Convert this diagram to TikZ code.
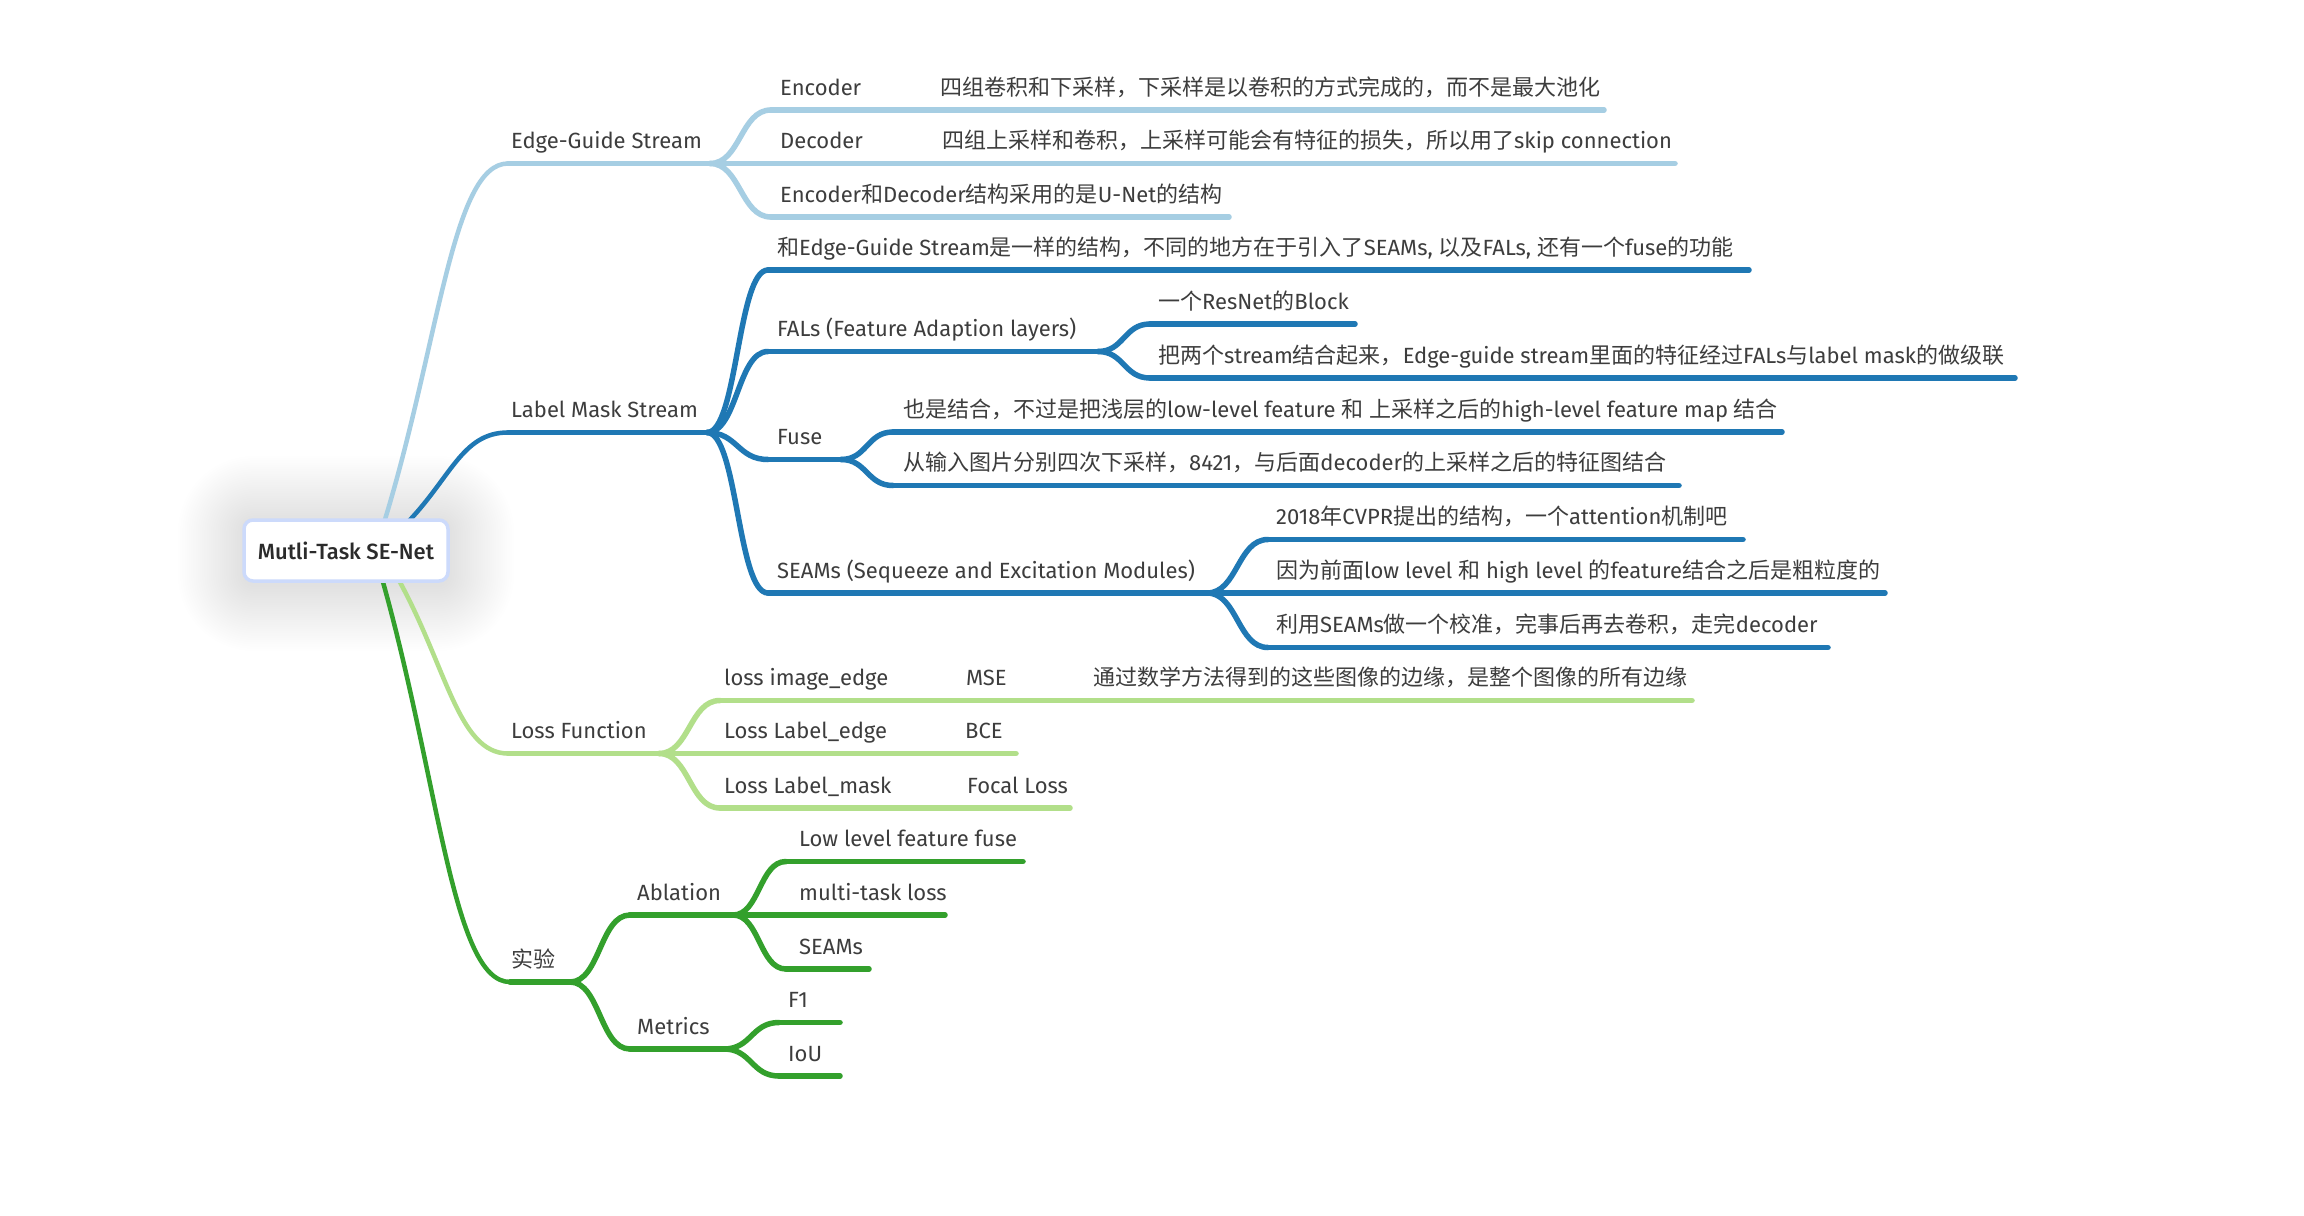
\documentclass[tikz,border=0pt]{standalone}
\usepackage{fontspec}
\setmainfont{Fira Sans}
\newfontfamily\cjk{Noto Sans CJK SC}
\IfFontExistsTF{Fira Sans Medium}{\newfontfamily\rootfont{Fira Sans Medium}}{\newfontfamily\rootfont{Fira Sans}[FakeBold=1]}
\usetikzlibrary{calc}
\definecolor{lb}{HTML}{A6CEE3}
\definecolor{db}{HTML}{1F78B4}
\definecolor{lg}{HTML}{B2DF8A}
\definecolor{dg}{HTML}{33A02C}
\definecolor{txt}{HTML}{3D3D3D}
\definecolor{roottxt}{HTML}{2B2B2B}
\definecolor{rootborder}{HTML}{CCDAFB}
\newcommand\cj[1]{{\cjk #1}}
\newcommand\sconn[3]{\draw[uline,#3] let \p1=(#1),\p2=(#2) in (\p1) .. controls ({0.5*\x1+0.5*\x2},\y1) and ({0.5*\x1+0.5*\x2},\y2) .. (\p2);}
\newcommand\rconn[3]{\draw[rootcurve,#3] let \p1=(#1),\p2=(#2) in (\p1) .. controls ({\x1+0.45*(\x2-\x1)},{\y1+0.5*(\y2-\y1)}) and ({\x1+0.55*(\x2-\x1)},\y2) .. (\p2);}
\begin{document}
\begin{tikzpicture}[x=1pt,y=-1pt,
  lbl/.style={anchor=base west, inner sep=0pt, text=txt, font=\fontsize{22}{26}\selectfont},
  uline/.style={line width=5.5pt, line cap=round},
  rootcurve/.style={line width=4.5pt, line cap=round},
  glow/.style={fill=black, opacity=0.002},
  rootbox/.style={draw=rootborder, line width=3.5pt, fill=white, rounded corners=9pt,
    minimum width=204pt, minimum height=61pt, inner sep=0pt, text=roottxt,
    font=\rootfont\fontsize{22}{26}\selectfont}]
\fill[white] (0,0) rectangle (2304,1215);
\useasboundingbox (0,0) rectangle (2304,1215);

% soft glow behind the central topic
\foreach \i in {1,...,30}{
  \fill[glow, rounded corners={(10+2.2*\i)*1pt}] ({244-2.2*\i},{522-2.2*\i}) rectangle ({448+2.2*\i},{585+2.2*\i});
}

% ---------- coordinates ----------
\coordinate (rA) at (383,526);
\coordinate (rB) at (404,526);
\coordinate (rC) at (396,575);
\coordinate (rD) at (381,575);
% Edge-Guide Stream
\coordinate (egS) at (508,163.5); \coordinate (egB) at (710,163.5);
\coordinate (encS) at (771,110);  \coordinate (encE) at (1604,110);
\coordinate (decE) at (1675,163.5);
\coordinate (udS) at (771,217);   \coordinate (udE) at (1229,217);
% Label Mask Stream
\coordinate (lmS) at (508,432.5); \coordinate (lmB) at (707,432.5);
\coordinate (s1S) at (768,270);   \coordinate (s1E) at (1749,270);
\coordinate (falS) at (768,351.5); \coordinate (falB) at (1098,351.5);
\coordinate (resS) at (1150,324); \coordinate (resE) at (1355,324);
\coordinate (twoS) at (1150,378); \coordinate (twoE) at (2015,378);
\coordinate (fuS) at (768,459.5); \coordinate (fuB) at (841,459.5);
\coordinate (f1S) at (893,432);   \coordinate (f1E) at (1782,432);
\coordinate (f2S) at (893,485.5); \coordinate (f2E) at (1679,485.5);
\coordinate (seS) at (768,593);   \coordinate (seB) at (1207,593);
\coordinate (saS) at (1268,539.5); \coordinate (saE) at (1743,539.5);
\coordinate (sbE) at (1885,593);
\coordinate (scS) at (1268,647.5); \coordinate (scE) at (1828,647.5);
% Loss Function
\coordinate (lfS) at (508,753.5); \coordinate (lfB) at (659,753.5);
\coordinate (l1S) at (720,700.5); \coordinate (l1E) at (1692,700.5);
\coordinate (l2E) at (1016,753.5);
\coordinate (l3S) at (720,808);   \coordinate (l3E) at (1070,808);
% experiment
\coordinate (exS) at (510,982);   \coordinate (exB) at (570,982);
\coordinate (abS) at (630,915);   \coordinate (abB) at (733,915);
\coordinate (a1S) at (786,861.5); \coordinate (a1E) at (1023,861.5);
\coordinate (a2E) at (945,915);
\coordinate (a3S) at (786,969);   \coordinate (a3E) at (869,969);
\coordinate (meS) at (630,1049);  \coordinate (meB) at (724,1049);
\coordinate (m1S) at (779,1022.5); \coordinate (m1E) at (840,1022.5);
\coordinate (m2S) at (779,1076);  \coordinate (m2E) at (840,1076);

% ---------- branches from the central topic ----------
\rconn{rA}{egS}{lb}
\rconn{rB}{lmS}{db}
\rconn{rC}{lfS}{lg}
\rconn{rD}{exS}{dg}

% ---------- Edge-Guide Stream ----------
\draw[uline,lb] (egS) -- (egB) -- (decE);
\sconn{egB}{encS}{lb} \draw[uline,lb] (encS) -- (encE);
\sconn{egB}{udS}{lb}  \draw[uline,lb] (udS) -- (udE);

% ---------- Label Mask Stream ----------
\draw[uline,db] (lmS) -- (lmB);
\sconn{lmB}{s1S}{db}  \draw[uline,db] (s1S) -- (s1E);
\sconn{lmB}{falS}{db} \draw[uline,db] (falS) -- (falB);
\sconn{falB}{resS}{db} \draw[uline,db] (resS) -- (resE);
\sconn{falB}{twoS}{db} \draw[uline,db] (twoS) -- (twoE);
\sconn{lmB}{fuS}{db}  \draw[uline,db] (fuS) -- (fuB);
\sconn{fuB}{f1S}{db}  \draw[uline,db] (f1S) -- (f1E);
\sconn{fuB}{f2S}{db}  \draw[uline,db] (f2S) -- (f2E);
\sconn{lmB}{seS}{db}  \draw[uline,db] (seS) -- (seB) -- (sbE);
\sconn{seB}{saS}{db}  \draw[uline,db] (saS) -- (saE);
\sconn{seB}{scS}{db}  \draw[uline,db] (scS) -- (scE);

% ---------- Loss Function ----------
\draw[uline,lg] (lfS) -- (lfB) -- (l2E);
\sconn{lfB}{l1S}{lg} \draw[uline,lg] (l1S) -- (l1E);
\sconn{lfB}{l3S}{lg} \draw[uline,lg] (l3S) -- (l3E);

% ---------- experiment ----------
\draw[uline,dg] (exS) -- (exB);
\sconn{exB}{abS}{dg} \draw[uline,dg] (abS) -- (abB) -- (a2E);
\sconn{abB}{a1S}{dg} \draw[uline,dg] (a1S) -- (a1E);
\sconn{abB}{a3S}{dg} \draw[uline,dg] (a3S) -- (a3E);
\sconn{exB}{meS}{dg} \draw[uline,dg] (meS) -- (meB);
\sconn{meB}{m1S}{dg} \draw[uline,dg] (m1S) -- (m1E);
\sconn{meB}{m2S}{dg} \draw[uline,dg] (m2S) -- (m2E);

% ---------- central topic ----------
\node[rootbox] (root) at (346,550.5) {Mutli-Task SE-Net};

% ---------- labels ----------
\node[lbl] (eg)   at (511,148.5) {Edge-Guide Stream};
\node[lbl] (enc)  at (780,95)    {Encoder};
\node[lbl] (encd) at (940,95)    {\cj{四组卷积和下采样，下采样是以卷积的方式完成的，而不是最大池化}};
\node[lbl] (dec)  at (780,148.5) {Decoder};
\node[lbl] (decd) at (942,148.5) {\cj{四组上采样和卷积，上采样可能会有特征的损失，所以用了}skip connection};
\node[lbl] (ud)   at (780,202)   {Encoder\cj{和}Decoder\cj{结构采用的是}U-Net\cj{的结构}};

\node[lbl] (lm)   at (511,417.5) {Label Mask Stream};
\node[lbl] (s1)   at (777,255)   {\cj{和}Edge-Guide Stream\cj{是一样的结构，不同的地方在于引入了}SEAMs, \cj{以及}FALs, \cj{还有一个}fuse\cj{的功能}};
\node[lbl] (fal)  at (777,336.5) {FALs (Feature Adaption layers)};
\node[lbl] (res)  at (1158,309)  {\cj{一个}ResNet\cj{的}Block};
\node[lbl] (two)  at (1158,363)  {\cj{把两个}stream\cj{结合起来，}Edge-guide stream\cj{里面的特征经过}FALs\cj{与}label mask\cj{的做级联}};
\node[lbl] (fu)   at (777,444.5) {Fuse};
\node[lbl] (f1)   at (903,417)   {\cj{也是结合，不过是把浅层的}low-level feature \cj{和} \cj{上采样之后的}high-level feature map \cj{结合}};
\node[lbl] (f2)   at (903,470.5) {\cj{从输入图片分别四次下采样，}8421\cj{，与后面}decoder\cj{的上采样之后的特征图结合}};
\node[lbl] (se)   at (777,578)   {SEAMs (Sequeeze and Excitation Modules)};
\node[lbl] (sa)   at (1276,524.5) {2018\cj{年}CVPR\cj{提出的结构，一个}attention\cj{机制吧}};
\node[lbl] (sb)   at (1276,578)  {\cj{因为前面}low level \cj{和} high level \cj{的}feature\cj{结合之后是粗粒度的}};
\node[lbl] (sc)   at (1276,632.5) {\cj{利用}SEAMs\cj{做一个校准，完事后再去卷积，走完}decoder};

\node[lbl] (lf)   at (511,738.5) {Loss Function};
\node[lbl] (l1)   at (724,685.5) {loss image\_edge};
\node[lbl] (l1b)  at (966,685.5) {MSE};
\node[lbl] (l1c)  at (1093,685.5) {\cj{通过数学方法得到的这些图像的边缘，是整个图像的所有边缘}};
\node[lbl] (l2)   at (724,738.5) {Loss Label\_edge};
\node[lbl] (l2b)  at (965,738.5) {BCE};
\node[lbl] (l3)   at (724,793)   {Loss Label\_mask};
\node[lbl] (l3b)  at (967,793)   {Focal Loss};

\node[lbl] (ex)   at (511,967)   {\cj{实验}};
\node[lbl] (ab)   at (637,900)   {Ablation};
\node[lbl] (a1)   at (799,846.5) {Low level feature fuse};
\node[lbl] (a2)   at (799,900)   {multi-task loss};
\node[lbl] (a3)   at (799,954)   {SEAMs};
\node[lbl] (me)   at (637,1034)  {Metrics};
\node[lbl] (m1)   at (788,1007.5) {F1};
\node[lbl] (m2)   at (788,1061)  {IoU};
\end{tikzpicture}
\end{document}
